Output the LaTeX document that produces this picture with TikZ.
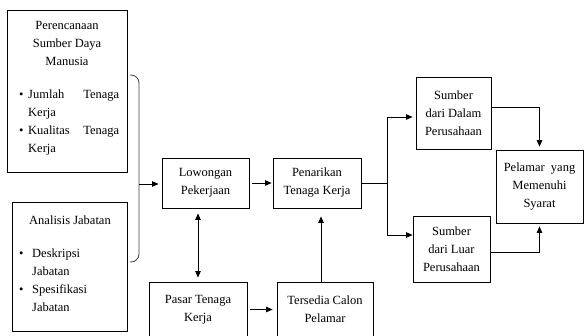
\documentclass[tikz,border=0pt]{standalone}
\usepackage{fontspec}
\setmainfont{Liberation Serif}
\usetikzlibrary{arrows.meta, positioning, calc}

\newcommand{\bitem}[3]{\makebox[#1][l]{\hspace*{2pt}\textbullet}\makebox[#2][l]{#3}}

\begin{document}
\begin{tikzpicture}[
    x=1pt, y=-1pt,
    >={Triangle[length=6.5pt, width=5.5pt]},
    every node/.style={font=\fontsize{12.5}{18}\selectfont},
    box/.style={draw, line width=0.8pt, align=center, inner sep=0pt},
    txt/.style={inner sep=0pt, align=left},
    arr/.style={draw, line width=0.8pt, ->},
]
\useasboundingbox (0,0) rectangle (584,335);

% ================================================================
%  LEFT: INPUT BOXES
% ================================================================
\node[box, minimum width=120pt, minimum height=162pt] (sdm) at (67,91) {};
\node[txt, align=center] (sdm_title) at (67,43) {Perencanaan\\Sumber Daya\\Manusia};
\node[txt, anchor=west] (sdm_list) at (17,122.5)
    {\bitem{11pt}{91pt}{Jumlah\hfill Tenaga}\\
     \hspace*{11pt}Kerja\\
     \bitem{11pt}{91pt}{Kualitas\hfill Tenaga}\\
     \hspace*{11pt}Kerja};

\node[box, minimum width=115pt, minimum height=129pt] (jabatan) at (69.5,266.5) {};
\node[txt, align=center] (jab_title) at (70,220) {Analisis Jabatan};
\node[txt, anchor=west] (jab_list) at (17,280)
    {\bitem{15pt}{70pt}{Deskripsi}\\
     \hspace*{15pt}Jabatan\\
     \bitem{15pt}{70pt}{Spesifikasi}\\
     \hspace*{15pt}Jabatan};

% bracket joining both boxes
\coordinate (brace) at (139,184);
\draw[line width=0.8pt, black!75, rounded corners=8pt]
    (130,75) -| (brace) |- (130,262);

% ================================================================
%  MIDDLE: PROCESS
% ================================================================
\node[box, minimum width=87pt, minimum height=50pt] (lowongan) at (205.5,183) {Lowongan\\Pekerjaan};
\node[box, minimum width=88pt, minimum height=50pt] (penarikan) at (317,183) {Penarikan\\Tenaga Kerja};
\node[box, minimum width=98pt, minimum height=55pt] (pasar) at (198,309.5) {Pasar Tenaga\\Kerja};
\node[box, minimum width=96pt, minimum height=55pt] (tersedia) at (325,309.5) {Tersedia Calon\\Pelamar};

\draw[arr, shorten >=3pt] (brace) -- (brace -| lowongan.west);
\draw[arr, shorten <=3pt, shorten >=1pt] (lowongan.east) -- (penarikan.west);
\draw[arr, <->, shorten <=5pt, shorten >=4pt] (lowongan.south -| pasar.north) -- (pasar.north);
\draw[arr, shorten <=3pt, shorten >=4pt] (pasar.east) -- (tersedia.west);
\draw[arr, shorten >=8pt] ([xshift=-4pt]tersedia.north) -- ([xshift=-4pt]tersedia.north |- penarikan.south);

% ================================================================
%  RIGHT: SOURCES AND RESULT
% ================================================================
\node[box, minimum width=75pt, minimum height=72pt] (dalam) at (453.5,113) {Sumber\\dari Dalam\\Perusahaan};
\node[box, minimum width=77pt, minimum height=66pt] (luar) at (451.5,249) {Sumber\\dari Luar\\Perusahaan};
\node[box, minimum width=87pt, minimum height=73pt] (pelamar) at (539.5,186.5) {Pelamar\hspace{0.5em}yang\\Memenuhi\\Syarat};

\coordinate (split) at (387,183);
\draw[line width=0.8pt] (penarikan.east) -- (split);
\draw[arr, shorten >=3pt] (split) |- ([yshift=-4pt]dalam.west);
\draw[arr] (split) |- ([yshift=14pt]luar.west);
\draw[arr, shorten >=3pt] ([yshift=6pt]dalam.east) -| (pelamar.north);
\draw[arr, shorten >=3pt] ([yshift=-3pt]luar.east) -| (pelamar.south);

\end{tikzpicture}
\end{document}
